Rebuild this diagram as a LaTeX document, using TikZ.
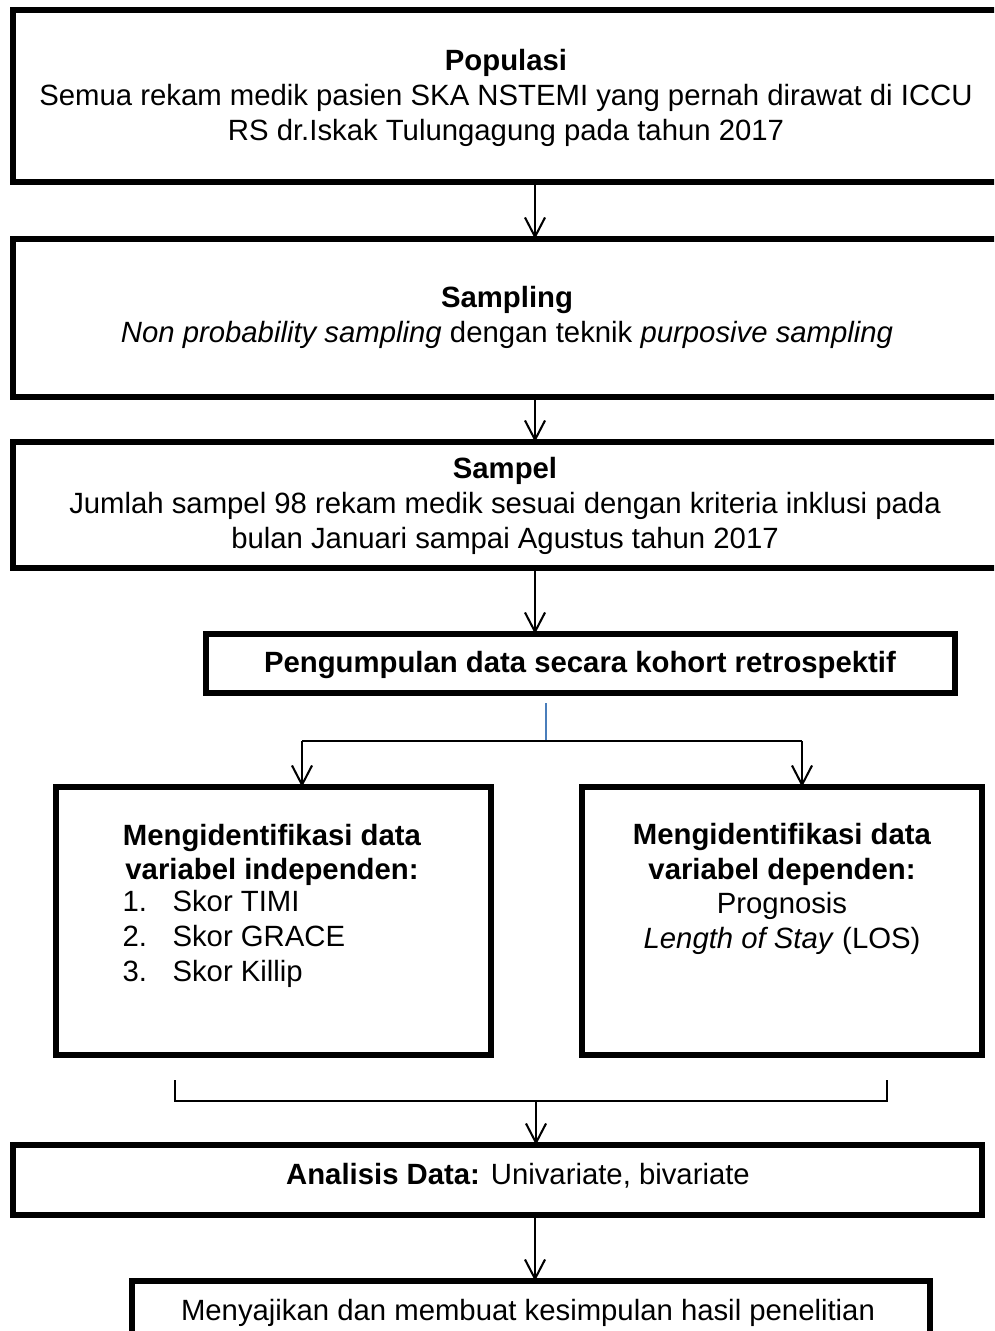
\documentclass[tikz,border=0pt]{standalone}
\usepackage{fontspec}
\setmainfont{Liberation Sans}
\usetikzlibrary{arrows.meta}
\def\px{0.389pt}
\tikzset{
  box/.style={draw=black, line width=2pt, inner sep=0pt, outer sep=0pt, rectangle},
  txt/.style={align=center, inner sep=0pt, font=\fontsize{11.4pt}{13.5pt}\selectfont},
  arr/.style={draw=black, line width=0.8pt, -{Straight Barb[length=7.5pt,width=7.8pt,line width=0.8pt]}},
  conn/.style={draw=black, line width=0.6pt},
  blueline/.style={draw=lineblue, line width=0.7pt}
}
\definecolor{lineblue}{RGB}{74,126,187}
\newcommand{\numbox}[1]{\makebox[19.45pt][l]{#1}}
\begin{document}
\begin{tikzpicture}[x=0.389pt,y=-0.389pt]
\useasboundingbox (0,0) rectangle (994,1331);
\clip (0,0) rectangle (994,1331);
% boxes
\node[box, minimum width={997*\px}, minimum height={172*\px}] (B1) at (511.5,96) {};
\node[box, minimum width={997*\px}, minimum height={158*\px}] (B2) at (511.5,318) {};
\node[box, minimum width={997*\px}, minimum height={126*\px}] (B3) at (511.5,505) {};
\node[box, minimum width={749*\px}, minimum height={59*\px}] (B4) at (580.5,663.5) {};
\node[box, minimum width={435*\px}, minimum height={268*\px}] (L) at (273.5,921) {};
\node[box, minimum width={400*\px}, minimum height={268*\px}] (R) at (782,921) {};
\node[box, minimum width={969*\px}, minimum height={70*\px}] (A) at (497.5,1180) {};
\node[box, minimum width={798*\px}, minimum height={79*\px}] (F) at (531,1320.5) {};
% texts
\node[txt] (t1) at (506,98) {\textbf{Populasi}\\Semua rekam medik pasien SKA NSTEMI yang pernah dirawat di ICCU\\RS dr.Iskak Tulungagung pada tahun 2017};
\node[txt] (t2) at (507,317.5) {\textbf{Sampling}\\\textit{Non probability sampling} dengan teknik \textit{purposive sampling}};
\node[txt] (t3) at (505,506) {\textbf{Sampel}\\Jumlah sampel 98 rekam medik sesuai dengan kriteria inklusi pada\\bulan Januari sampai Agustus tahun 2017};
\node[txt] (t4) at (580,665) {\textbf{Pengumpulan data secara kohort retrospektif}};
\node[txt] (tl) at (272,855) {\textbf{Mengidentifikasi data}\\\textbf{variabel independen:}};
\node[txt, align=left, anchor=west] (tll) at (122,939) {\numbox{1.}Skor TIMI\\\numbox{2.}Skor GRACE\\\numbox{3.}Skor Killip};
\node[txt] (tr) at (782,889) {\textbf{Mengidentifikasi data}\\\textbf{variabel dependen:}\\Prognosis\\\textit{Length of Stay} (LOS)};
\node[txt] (ta) at (518,1176) {\textbf{Analisis Data:} Univariate, bivariate};
\node[txt] (tf) at (528,1313) {Menyajikan dan membuat kesimpulan hasil penelitian};
% connectors
\coordinate (ax) at (535,0);
\draw[arr] (ax |- B1.south) -- (ax |- B2.north);
\draw[arr] (ax |- B2.south) -- (ax |- B3.north);
\draw[arr] (ax |- B3.south) -- (ax |- B4.north);
\coordinate (J0) at (546,703);
\coordinate (J) at (546,741);
\coordinate (jl) at (302,741);
\coordinate (jr) at (802,741);
\draw[blueline] (J0) -- (J);
\draw[conn] (jl) -- (jr);
\draw[arr] (jl) -- (jl |- L.north);
\draw[arr] (jr) -- (jr |- R.north);
\coordinate (bl0) at (175,1080);
\coordinate (bl) at (175,1101);
\coordinate (br) at (887,1101);
\coordinate (br0) at (887,1080);
\coordinate (bm) at (536,1101);
\draw[conn] (bl0) -- (bl) -- (br) -- (br0);
\draw[arr] (bm) -- (bm |- A.north);
\draw[arr] (ax |- A.south) -- (ax |- F.north);
\end{tikzpicture}
\end{document}
